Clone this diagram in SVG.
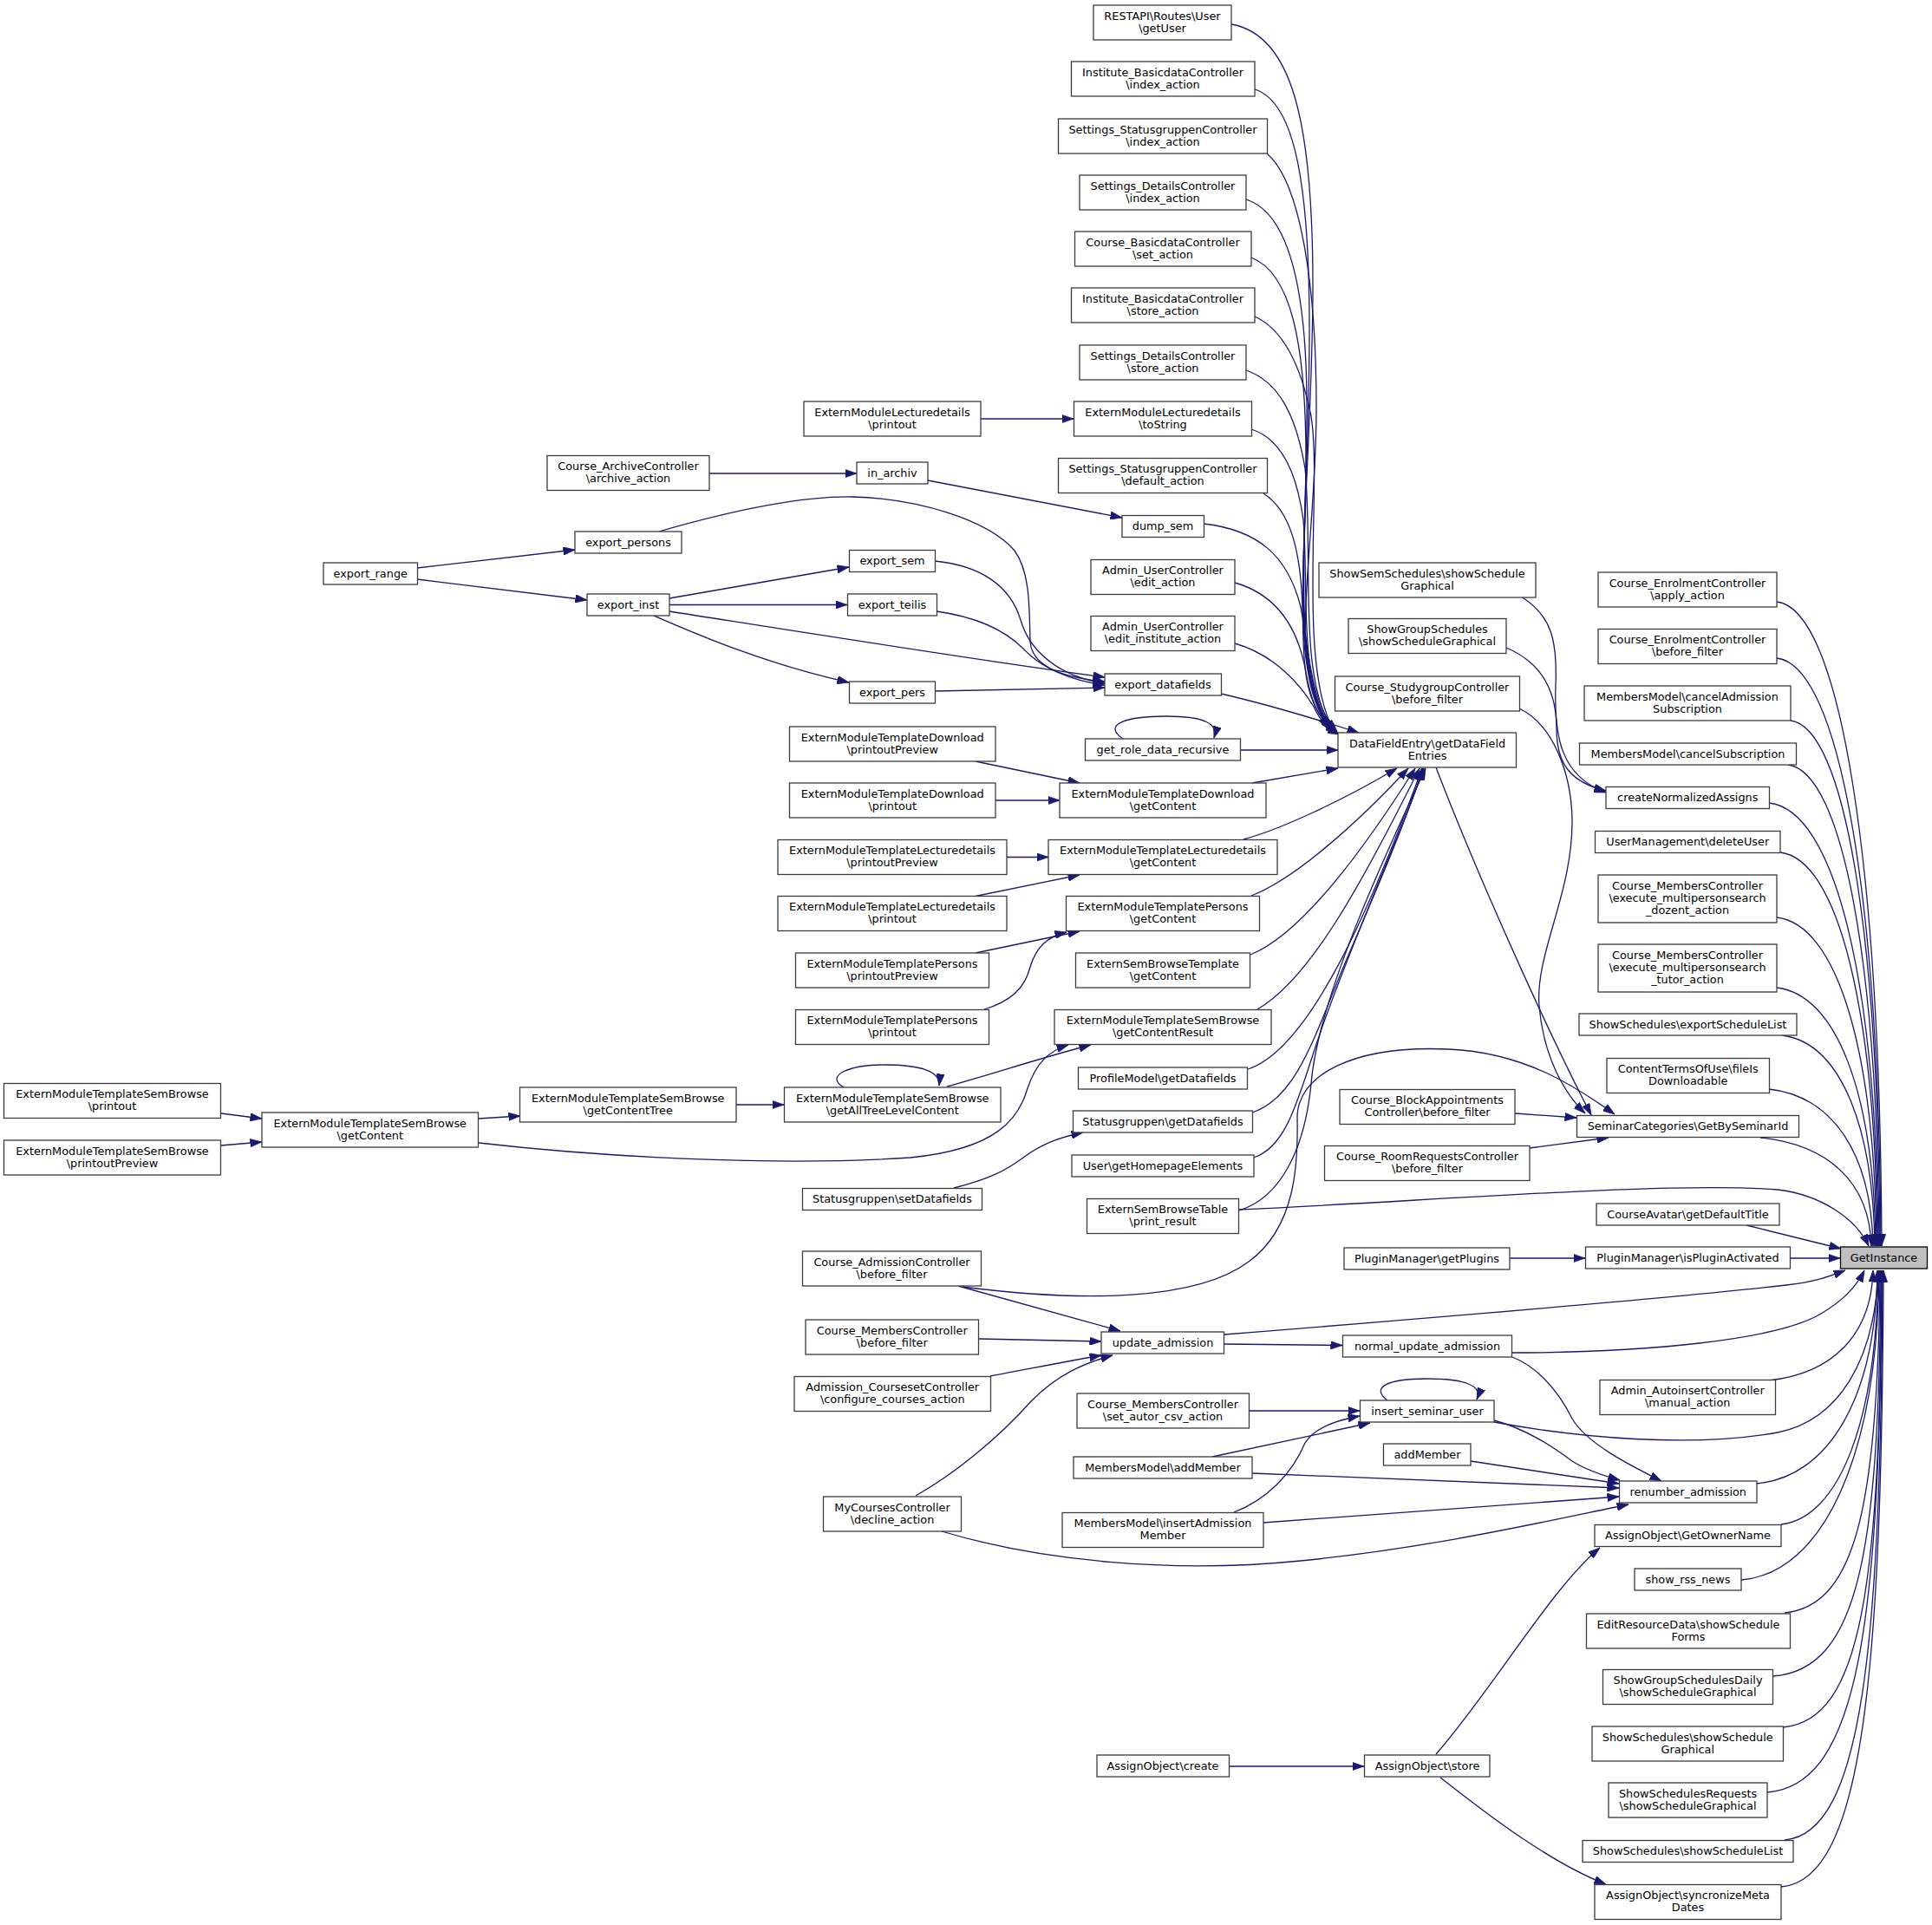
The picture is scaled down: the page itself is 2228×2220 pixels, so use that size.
<svg xmlns="http://www.w3.org/2000/svg" width="2228" height="2220" viewBox="0 0 2228 2220">
<defs>
<marker id="ah" viewBox="0 0 10 7" refX="10" refY="3.5" markerWidth="13.5" markerHeight="9.5" markerUnits="userSpaceOnUse" orient="auto"><path d="M0,0L10,3.5L0,7z" fill="#191970" stroke="#191970" stroke-width="0.5"/></marker>
</defs>
<style>
.nd rect{fill:#fff;stroke:#3c3c3c;stroke-width:1.3}
.nd text{font-family:"DejaVu Sans",sans-serif;font-size:12.85px;text-anchor:middle;fill:#000}
.hl rect{fill:#bfbfbf;stroke:#000}
.e path{fill:none;stroke:#191970;stroke-width:1.3;marker-end:url(#ah)}
</style>
<rect width="2228" height="2220" fill="#fff"/>
<g class="e" id="edges">
<!-- top column to DataFieldEntry -->
<path d="M1420,28 C1490,40 1514,140 1514,330 C1514,560 1480,760 1532,840"/>
<path d="M1447,103 C1495,118 1510,220 1510,380 C1510,600 1485,770 1534,841"/>
<path d="M1461,177 C1500,210 1518,330 1518,470 C1518,640 1480,780 1536,842"/>
<path d="M1437,230 C1485,245 1506,330 1507,460 C1508,640 1485,775 1537,843"/>
<path d="M1443,297 C1490,315 1505,400 1506,520 C1507,660 1485,780 1538,843"/>
<path d="M1447,365 C1480,380 1500,420 1512,480 C1525,560 1495,770 1539,844"/>
<path d="M1437,427 C1475,440 1495,480 1505,540 C1515,640 1495,790 1540,845"/>
<path d="M1443,495 C1475,505 1495,540 1503,600 C1510,680 1495,800 1541,845"/>
<path d="M1457,569 C1490,590 1500,640 1502,700 C1504,760 1500,815 1542,846"/>
<path d="M1388,604 C1450,611 1485,640 1500,700 C1510,750 1510,810 1543,846"/>
<path d="M1424,672 C1470,685 1495,720 1505,770 C1512,810 1520,830 1544,847"/>
<path d="M1424,742 C1470,755 1500,790 1515,815 C1522,830 1530,840 1545,847"/>
<path d="M1408,800 C1460,812 1520,830 1567,845"/>
<path d="M1430,865 L1543,865"/>
<path d="M1295,852 C1270,835 1300,826 1345,826 C1390,826 1405,835 1400,851"/>
<!-- mid column to DataFieldEntry bottom -->
<path d="M1444,903 C1480,897 1515,891 1543,886"/>
<path d="M1434,968 C1475,957 1545,925 1611,886"/>
<path d="M1443,1033 C1490,1015 1560,955 1624,886"/>
<path d="M1442,1101 C1495,1080 1560,1000 1632,886"/>
<path d="M1450,1164 C1510,1130 1570,1020 1637,886"/>
<path d="M1439,1233 C1510,1210 1580,1050 1640,886"/>
<path d="M1444,1283 C1500,1265 1520,1180 1560,1090 C1590,1020 1620,950 1641,886"/>
<path d="M1446,1335 C1490,1320 1500,1250 1530,1170 C1570,1060 1620,950 1642,886"/>
<path d="M1429,1396 C1480,1380 1505,1320 1512,1250 C1520,1150 1600,980 1644,886"/>
<!-- left cluster -->
<path d="M1131,483 L1238,483"/>
<path d="M818,546 L988,546"/>
<path d="M1070,554 L1294,597"/>
<path d="M481,655 L663,634"/>
<path d="M481,668 L677,692"/>
<path d="M772,690 L979,654"/>
<path d="M772,697.5 L977,697.5"/>
<path d="M772,705 C900,725 1150,765 1274,781"/>
<path d="M754,710 C800,730 880,765 979,787"/>
<path d="M760,613 C840,590 920,572 983,573 C1060,575 1140,600 1170,635 C1188,660 1187,700 1188,740 C1190,770 1230,782 1274,786"/>
<path d="M1078,647 C1130,652 1165,675 1177,715 C1187,750 1220,780 1274,788"/>
<path d="M1080,705 C1130,712 1160,728 1180,748 C1200,770 1235,785 1274,790"/>
<path d="M1078,797 L1274,793"/>
<path d="M1125,878 L1245,903"/>
<path d="M1148,923 L1222,923"/>
<path d="M1161,988.5 L1209,988.5"/>
<path d="M1125,1033.5 L1245,1009"/>
<path d="M1125,1099 L1245,1074"/>
<path d="M1135,1164 C1165,1155 1182,1140 1188,1115 C1195,1092 1208,1080 1230,1075"/>
<path d="M255,1284 L302,1290"/>
<path d="M255,1321 L302,1317"/>
<path d="M552,1290 L600,1287"/>
<path d="M849,1274 L904,1274"/>
<path d="M973,1254 C950,1240 980,1228 1020,1228 C1060,1228 1085,1235 1083,1252"/>
<path d="M1092,1253 C1140,1240 1200,1220 1258,1205"/>
<path d="M552,1318 C700,1335 900,1345 1050,1335 C1150,1325 1175,1290 1185,1255 C1195,1225 1210,1212 1232,1205"/>
<path d="M1100,1370 C1140,1360 1160,1350 1180,1335 C1200,1320 1220,1312 1249,1306"/>
<!-- to SeminarCategories / createNormalizedAssigns -->
<path d="M1754,688 C1790,710 1796,740 1794,790 C1792,850 1800,895 1852,914"/>
<path d="M1737,747 C1780,765 1795,800 1795,840 C1795,880 1810,902 1852,912"/>
<path d="M1752,817 C1790,835 1812,890 1813,945 C1814,1030 1770,1100 1775,1160 C1780,1220 1805,1262 1828,1284"/>
<path d="M1656,885 C1700,1000 1780,1180 1835,1286"/>
<path d="M1110,1484 C1250,1502 1380,1500 1440,1455 C1495,1415 1497,1340 1496,1290 C1495,1240 1560,1205 1671,1210 C1760,1214 1820,1255 1862,1285"/>
<path d="M1747,1284 L1818,1289"/>
<path d="M1764,1324 L1855,1312"/>
<!-- right column to GetInstance (top) -->
<path d="M2049,694 C2122,702 2168,991 2170,1437"/>
<path d="M2049,759 C2121,767 2167,1030 2169,1437"/>
<path d="M2065,831 C2127,839 2166,1073 2168,1437"/>
<path d="M2062,882 C2124,890 2165,1104 2167,1437"/>
<path d="M2040,926 C2116,934 2164,1130 2166,1437"/>
<path d="M2053,983 C2120,991 2163,1165 2165,1437"/>
<path d="M2049,1058 C2118,1066 2162,1209 2164,1437"/>
<path d="M2049,1139 C2117,1147 2161,1258 2163,1437"/>
<path d="M2055,1194 C2119,1202 2160,1291 2162,1437"/>
<path d="M2040,1256 C2112,1264 2158,1328 2160,1437"/>
<path d="M2030,1312 C2107,1320 2156,1362 2158,1437"/>
<path d="M1429,1395 C1650,1385 1930,1362 2050,1372 C2100,1378 2140,1405 2155,1437"/>
<path d="M2014,1413 L2123,1440"/>
<path d="M1741,1451 L1828,1451"/>
<path d="M2065,1451 L2122,1451"/>
<!-- bottom area -->
<path d="M1105,1483 L1292,1535"/>
<path d="M1129,1544 L1270,1547"/>
<path d="M1142,1587 C1180,1580 1230,1570 1270,1563"/>
<path d="M1056,1725 C1100,1700 1150,1660 1190,1615 C1220,1585 1250,1572 1283,1563"/>
<path d="M1086,1766 C1200,1800 1350,1815 1500,1800 C1650,1785 1780,1755 1878,1735"/>
<path d="M1412,1539 C1650,1520 1950,1495 2060,1482 C2095,1478 2112,1471 2128,1465"/>
<path d="M1412,1550 L1548,1551.5"/>
<path d="M1744,1560 C1900,1560 2050,1545 2100,1515 C2125,1500 2140,1485 2150,1465"/>
<path d="M1744,1565 C1770,1575 1795,1600 1813,1636 C1830,1665 1880,1690 1916,1708"/>
<path d="M1440,1627 L1568,1627"/>
<path d="M1398,1680 L1580,1641"/>
<path d="M1423,1744 C1460,1730 1490,1700 1505,1664 C1515,1648 1540,1638 1568,1633"/>
<path d="M1600,1615 C1580,1600 1600,1590 1645,1590 C1690,1590 1710,1598 1703,1614"/>
<path d="M1723,1640 C1820,1658 1950,1670 2050,1652 C2120,1638 2162,1570 2166,1465"/>
<path d="M1723,1638 C1760,1648 1790,1668 1813,1685 C1830,1696 1850,1702 1868,1707"/>
<path d="M1696,1685 L1867,1711"/>
<path d="M1444,1699 L1867,1716"/>
<path d="M1457,1756 L1867,1726"/>
<path d="M2040,1592 C2112,1584 2158,1541 2160,1465"/>
<path d="M2026,1711 C2109,1703 2163,1612 2165,1465"/>
<path d="M2054,1758 C2121,1750 2164,1640 2166,1465"/>
<path d="M2008,1822 C2103,1814 2165,1679 2167,1465"/>
<path d="M2058,1860 C2136,1852 2166,1750 2168,1465"/>
<path d="M2045,1933 C2144,1925 2167,1790 2169,1465"/>
<path d="M2056,1992 C2147,1984 2168,1830 2170,1465"/>
<path d="M2038,2067 C2144,2059 2168,1870 2170,1465"/>
<path d="M2058,2122 C2148,2114 2169,1900 2171,1465"/>
<path d="M2054,2176 C2149,2168 2170,1930 2172,1465"/>
<path d="M1417,2037 L1573,2037"/>
<path d="M1656,2023 C1720,1950 1790,1830 1845,1785"/>
<path d="M1661,2050 C1700,2080 1780,2145 1852,2173"/>
</g>
<g id="nodes">
<g class="nd" id="n_restapi"><rect x="1261" y="6" width="159" height="40"/><text><tspan x="1340.5" y="22.5">RESTAPI\Routes\User</tspan><tspan x="1340.5" y="36.7">\getUser</tspan></text></g>
<g class="nd" id="n_inst_index"><rect x="1235.5" y="71" width="211.5" height="40"/><text><tspan x="1341" y="87.5">Institute_BasicdataController</tspan><tspan x="1341" y="101.7">\index_action</tspan></text></g>
<g class="nd" id="n_sgc_index"><rect x="1220.5" y="137" width="241" height="40"/><text><tspan x="1341" y="153.5">Settings_StatusgruppenController</tspan><tspan x="1341" y="167.7">\index_action</tspan></text></g>
<g class="nd" id="n_sdc_index"><rect x="1245" y="202" width="192" height="40"/><text><tspan x="1341" y="218.5">Settings_DetailsController</tspan><tspan x="1341" y="232.7">\index_action</tspan></text></g>
<g class="nd" id="n_cbc_set"><rect x="1239.5" y="267" width="203.5" height="40"/><text><tspan x="1341" y="283.5">Course_BasicdataController</tspan><tspan x="1341" y="297.7">\set_action</tspan></text></g>
<g class="nd" id="n_inst_store"><rect x="1235.5" y="332" width="211.5" height="40"/><text><tspan x="1341" y="348.5">Institute_BasicdataController</tspan><tspan x="1341" y="362.7">\store_action</tspan></text></g>
<g class="nd" id="n_sdc_store"><rect x="1245" y="398" width="192" height="40"/><text><tspan x="1341" y="414.5">Settings_DetailsController</tspan><tspan x="1341" y="428.7">\store_action</tspan></text></g>
<g class="nd" id="n_eml_tostring"><rect x="1238.5" y="463" width="205" height="40"/><text><tspan x="1341" y="479.5">ExternModuleLecturedetails</tspan><tspan x="1341" y="493.7">\toString</tspan></text></g>
<g class="nd" id="n_sgc_default"><rect x="1220.5" y="528.5" width="241" height="40"/><text><tspan x="1341" y="545">Settings_StatusgruppenController</tspan><tspan x="1341" y="559.2">\default_action</tspan></text></g>
<g class="nd" id="n_dump_sem"><rect x="1294" y="594.5" width="94.5" height="25"/><text x="1341" y="611">dump_sem</text></g>
<g class="nd" id="n_auc_edit"><rect x="1258" y="645.5" width="166" height="40"/><text><tspan x="1341" y="662">Admin_UserController</tspan><tspan x="1341" y="676.2">\edit_action</tspan></text></g>
<g class="nd" id="n_auc_editinst"><rect x="1258" y="710.5" width="166" height="40"/><text><tspan x="1341" y="727">Admin_UserController</tspan><tspan x="1341" y="741.2">\edit_institute_action</tspan></text></g>
<g class="nd" id="n_export_datafields"><rect x="1274" y="777" width="134.5" height="25"/><text x="1341" y="793.5">export_datafields</text></g>
<g class="nd" id="n_get_role"><rect x="1251.5" y="852" width="179" height="25"/><text x="1341" y="868.5">get_role_data_recursive</text></g>
<g class="nd" id="n_emtd_gc"><rect x="1222" y="903" width="238" height="40"/><text><tspan x="1341" y="919.5">ExternModuleTemplateDownload</tspan><tspan x="1341" y="933.7">\getContent</tspan></text></g>
<g class="nd" id="n_emtl_gc"><rect x="1209" y="968.5" width="264" height="40"/><text><tspan x="1341" y="985">ExternModuleTemplateLecturedetails</tspan><tspan x="1341" y="999.2">\getContent</tspan></text></g>
<g class="nd" id="n_emtp_gc"><rect x="1229.5" y="1033.5" width="223" height="40"/><text><tspan x="1341" y="1050">ExternModuleTemplatePersons</tspan><tspan x="1341" y="1064.2">\getContent</tspan></text></g>
<g class="nd" id="n_esbt_gc"><rect x="1240.5" y="1099" width="201" height="40"/><text><tspan x="1341" y="1115.5">ExternSemBrowseTemplate</tspan><tspan x="1341" y="1129.7">\getContent</tspan></text></g>
<g class="nd" id="n_emts_res"><rect x="1216" y="1164.5" width="250" height="40"/><text><tspan x="1341" y="1181">ExternModuleTemplateSemBrowse</tspan><tspan x="1341" y="1195.2">\getContentResult</tspan></text></g>
<g class="nd" id="n_profile"><rect x="1243.5" y="1231" width="195" height="25"/><text x="1341" y="1247.5">ProfileModel\getDatafields</text></g>
<g class="nd" id="n_sg_get"><rect x="1237.5" y="1281" width="207" height="25"/><text x="1341" y="1297.5">Statusgruppen\getDatafields</text></g>
<g class="nd" id="n_user_home"><rect x="1236" y="1332" width="210" height="25"/><text x="1341" y="1348.5">User\getHomepageElements</text></g>
<g class="nd" id="n_esbtable"><rect x="1253.5" y="1382.5" width="175" height="40"/><text><tspan x="1341" y="1399">ExternSemBrowseTable</tspan><tspan x="1341" y="1413.2">\print_result</tspan></text></g>
<g class="nd" id="n_update_adm"><rect x="1270" y="1536" width="141.5" height="25"/><text x="1341" y="1552.5">update_admission</text></g>
<g class="nd" id="n_set_autor"><rect x="1242" y="1607" width="198.5" height="40"/><text><tspan x="1341" y="1623.5">Course_MembersController</tspan><tspan x="1341" y="1637.7">\set_autor_csv_action</tspan></text></g>
<g class="nd" id="n_mm_add"><rect x="1238" y="1680" width="206" height="25"/><text x="1341" y="1696.5">MembersModel\addMember</text></g>
<g class="nd" id="n_mm_insadm"><rect x="1225" y="1744.5" width="232" height="40"/><text><tspan x="1341" y="1761">MembersModel\insertAdmission</tspan><tspan x="1341" y="1775.2">Member</tspan></text></g>
<g class="nd" id="n_ao_create"><rect x="1265" y="2024" width="152.5" height="25"/><text x="1341" y="2040.5">AssignObject\create</text></g>
<g class="nd" id="n_showsem"><rect x="1521" y="649" width="250" height="40"/><text><tspan x="1646" y="665.5">ShowSemSchedules\showSchedule</tspan><tspan x="1646" y="679.7">Graphical</tspan></text></g>
<g class="nd" id="n_showgroup"><rect x="1555" y="713.5" width="182" height="40"/><text><tspan x="1646" y="730">ShowGroupSchedules</tspan><tspan x="1646" y="744.2">\showScheduleGraphical</tspan></text></g>
<g class="nd" id="n_studygroup"><rect x="1539.5" y="780" width="213" height="40"/><text><tspan x="1646" y="796.5">Course_StudygroupController</tspan><tspan x="1646" y="810.7">\before_filter</tspan></text></g>
<g class="nd" id="n_dfe"><rect x="1543" y="845" width="205.5" height="40"/><text><tspan x="1646" y="861.5">DataFieldEntry\getDataField</tspan><tspan x="1646" y="875.7">Entries</tspan></text></g>
<g class="nd" id="n_blockapp"><rect x="1545" y="1256.5" width="202" height="40"/><text><tspan x="1646" y="1273">Course_BlockAppointments</tspan><tspan x="1646" y="1287.2">Controller\before_filter</tspan></text></g>
<g class="nd" id="n_roomreq"><rect x="1527.5" y="1321.5" width="236.5" height="40"/><text><tspan x="1646" y="1338">Course_RoomRequestsController</tspan><tspan x="1646" y="1352.2">\before_filter</tspan></text></g>
<g class="nd" id="n_getplugins"><rect x="1550" y="1439" width="191" height="25"/><text x="1645.5" y="1455.5">PluginManager\getPlugins</text></g>
<g class="nd" id="n_normal_upd"><rect x="1548.5" y="1540" width="195" height="25"/><text x="1646" y="1556.5">normal_update_admission</text></g>
<g class="nd" id="n_ins_sem_user"><rect x="1568.5" y="1615" width="154.5" height="25"/><text x="1646" y="1631.5">insert_seminar_user</text></g>
<g class="nd" id="n_addmember"><rect x="1595.5" y="1665" width="100.5" height="25"/><text x="1646" y="1681.5">addMember</text></g>
<g class="nd" id="n_ao_store"><rect x="1573.5" y="2024" width="144.5" height="25"/><text x="1646" y="2040.5">AssignObject\store</text></g>
<g class="nd" id="n_enrol_apply"><rect x="1843" y="660" width="206" height="40"/><text><tspan x="1946" y="676.5">Course_EnrolmentController</tspan><tspan x="1946" y="690.7">\apply_action</tspan></text></g>
<g class="nd" id="n_enrol_before"><rect x="1843" y="725.5" width="206" height="40"/><text><tspan x="1946" y="742">Course_EnrolmentController</tspan><tspan x="1946" y="756.2">\before_filter</tspan></text></g>
<g class="nd" id="n_cancel_adm"><rect x="1827" y="791" width="238" height="40"/><text><tspan x="1946" y="807.5">MembersModel\cancelAdmission</tspan><tspan x="1946" y="821.7">Subscription</tspan></text></g>
<g class="nd" id="n_cancel_sub"><rect x="1821.5" y="857" width="250" height="25"/><text x="1946.5" y="873.5">MembersModel\cancelSubscription</text></g>
<g class="nd" id="n_cna"><rect x="1852" y="907.5" width="188.5" height="25"/><text x="1946.25" y="924">createNormalizedAssigns</text></g>
<g class="nd" id="n_deluser"><rect x="1839.5" y="958.5" width="213.5" height="25"/><text x="1946.25" y="975">UserManagement\deleteUser</text></g>
<g class="nd" id="n_exec_doz"><rect x="1843" y="1009" width="206" height="55"/><text><tspan x="1946" y="1025.5">Course_MembersController</tspan><tspan x="1946" y="1039.7">\execute_multipersonsearch</tspan><tspan x="1946" y="1053.9">_dozent_action</tspan></text></g>
<g class="nd" id="n_exec_tut"><rect x="1843" y="1089" width="206" height="55"/><text><tspan x="1946" y="1105.5">Course_MembersController</tspan><tspan x="1946" y="1119.7">\execute_multipersonsearch</tspan><tspan x="1946" y="1133.9">_tutor_action</tspan></text></g>
<g class="nd" id="n_export_sched"><rect x="1821" y="1169" width="251" height="25"/><text x="1946.5" y="1185.5">ShowSchedules\exportScheduleList</text></g>
<g class="nd" id="n_fileis"><rect x="1853" y="1220.5" width="187.5" height="40"/><text><tspan x="1946.75" y="1237">ContentTermsOfUse\fileIs</tspan><tspan x="1946.75" y="1251.2">Downloadable</tspan></text></g>
<g class="nd" id="n_semcat"><rect x="1818.5" y="1286.5" width="256" height="25"/><text x="1946.5" y="1303">SeminarCategories\GetBySeminarId</text></g>
<g class="nd" id="n_avatar"><rect x="1841" y="1388" width="211" height="25"/><text x="1946.5" y="1404.5">CourseAvatar\getDefaultTitle</text></g>
<g class="nd" id="n_isplugin"><rect x="1828.5" y="1438" width="236" height="25"/><text x="1946.5" y="1454.5">PluginManager\isPluginActivated</text></g>
<g class="nd hl" id="n_getinstance"><rect x="2122.5" y="1438" width="100" height="25"/><text x="2172.5" y="1454.5">GetInstance</text></g>
<g class="nd" id="n_autoinsert"><rect x="1845" y="1591.5" width="202.5" height="40"/><text><tspan x="1946.25" y="1608">Admin_AutoinsertController</tspan><tspan x="1946.25" y="1622.2">\manual_action</tspan></text></g>
<g class="nd" id="n_renumber"><rect x="1867.5" y="1708" width="158.5" height="25"/><text x="1946.75" y="1724.5">renumber_admission</text></g>
<g class="nd" id="n_getowner"><rect x="1839" y="1758.5" width="215" height="25"/><text x="1946.5" y="1775">AssignObject\GetOwnerName</text></g>
<g class="nd" id="n_rss"><rect x="1885" y="1809" width="123" height="25"/><text x="1946.5" y="1825.5">show_rss_news</text></g>
<g class="nd" id="n_editres"><rect x="1829.5" y="1861" width="235" height="40"/><text><tspan x="1947" y="1877.5">EditResourceData\showSchedule</tspan><tspan x="1947" y="1891.7">Forms</tspan></text></g>
<g class="nd" id="n_sgsd"><rect x="1848.5" y="1925.5" width="196" height="40"/><text><tspan x="1946.5" y="1942">ShowGroupSchedulesDaily</tspan><tspan x="1946.5" y="1956.2">\showScheduleGraphical</tspan></text></g>
<g class="nd" id="n_ss_graph"><rect x="1836" y="1991" width="220.5" height="40"/><text><tspan x="1946.25" y="2007.5">ShowSchedules\showSchedule</tspan><tspan x="1946.25" y="2021.7">Graphical</tspan></text></g>
<g class="nd" id="n_ssr"><rect x="1855" y="2056" width="183" height="40"/><text><tspan x="1946.5" y="2072.5">ShowSchedulesRequests</tspan><tspan x="1946.5" y="2086.7">\showScheduleGraphical</tspan></text></g>
<g class="nd" id="n_ss_list"><rect x="1825" y="2122.5" width="243" height="25"/><text x="1946.5" y="2139">ShowSchedules\showScheduleList</text></g>
<g class="nd" id="n_sync"><rect x="1839" y="2173.5" width="215" height="40"/><text><tspan x="1946.5" y="2190">AssignObject\syncronizeMeta</tspan><tspan x="1946.5" y="2204.2">Dates</tspan></text></g>
<g class="nd" id="n_eml_printout"><rect x="927" y="463" width="204" height="40"/><text><tspan x="1029" y="479.5">ExternModuleLecturedetails</tspan><tspan x="1029" y="493.7">\printout</tspan></text></g>
<g class="nd" id="n_archive"><rect x="631" y="525.5" width="187" height="40"/><text><tspan x="724.5" y="542">Course_ArchiveController</tspan><tspan x="724.5" y="556.2">\archive_action</tspan></text></g>
<g class="nd" id="n_in_archiv"><rect x="988" y="533" width="82" height="25"/><text x="1029" y="549.5">in_archiv</text></g>
<g class="nd" id="n_export_persons"><rect x="663" y="613" width="123" height="25"/><text x="724.5" y="629.5">export_persons</text></g>
<g class="nd" id="n_export_range"><rect x="373" y="649" width="108.5" height="25"/><text x="427.25" y="665.5">export_range</text></g>
<g class="nd" id="n_export_sem"><rect x="979.5" y="634.5" width="99" height="25"/><text x="1029" y="651">export_sem</text></g>
<g class="nd" id="n_export_inst"><rect x="677" y="685" width="95" height="25"/><text x="724.5" y="701.5">export_inst</text></g>
<g class="nd" id="n_export_teilis"><rect x="977.5" y="685" width="103" height="25"/><text x="1029" y="701.5">export_teilis</text></g>
<g class="nd" id="n_export_pers"><rect x="979.5" y="786" width="99" height="25"/><text x="1029" y="802.5">export_pers</text></g>
<g class="nd" id="n_emtd_prev"><rect x="910.5" y="838" width="237.5" height="40"/><text><tspan x="1029.25" y="854.5">ExternModuleTemplateDownload</tspan><tspan x="1029.25" y="868.7">\printoutPreview</tspan></text></g>
<g class="nd" id="n_emtd_print"><rect x="910.5" y="903" width="237.5" height="40"/><text><tspan x="1029.25" y="919.5">ExternModuleTemplateDownload</tspan><tspan x="1029.25" y="933.7">\printout</tspan></text></g>
<g class="nd" id="n_emtl_prev"><rect x="897" y="968.5" width="264" height="40"/><text><tspan x="1029" y="985">ExternModuleTemplateLecturedetails</tspan><tspan x="1029" y="999.2">\printoutPreview</tspan></text></g>
<g class="nd" id="n_emtl_print"><rect x="897" y="1033.5" width="264" height="40"/><text><tspan x="1029" y="1050">ExternModuleTemplateLecturedetails</tspan><tspan x="1029" y="1064.2">\printout</tspan></text></g>
<g class="nd" id="n_emtp_prev"><rect x="917.5" y="1099" width="223" height="40"/><text><tspan x="1029" y="1115.5">ExternModuleTemplatePersons</tspan><tspan x="1029" y="1129.7">\printoutPreview</tspan></text></g>
<g class="nd" id="n_emtp_print"><rect x="917.5" y="1164.5" width="223" height="40"/><text><tspan x="1029" y="1181">ExternModuleTemplatePersons</tspan><tspan x="1029" y="1195.2">\printout</tspan></text></g>
<g class="nd" id="n_emts_tree"><rect x="599.5" y="1254" width="249.5" height="40"/><text><tspan x="724.25" y="1270.5">ExternModuleTemplateSemBrowse</tspan><tspan x="724.25" y="1284.7">\getContentTree</tspan></text></g>
<g class="nd" id="n_emts_alltree"><rect x="904.5" y="1254" width="249.5" height="40"/><text><tspan x="1029.25" y="1270.5">ExternModuleTemplateSemBrowse</tspan><tspan x="1029.25" y="1284.7">\getAllTreeLevelContent</tspan></text></g>
<g class="nd" id="n_emts_print"><rect x="4.5" y="1249.5" width="250" height="40"/><text><tspan x="129.5" y="1266">ExternModuleTemplateSemBrowse</tspan><tspan x="129.5" y="1280.2">\printout</tspan></text></g>
<g class="nd" id="n_emts_prev"><rect x="4.5" y="1315" width="250" height="40"/><text><tspan x="129.5" y="1331.5">ExternModuleTemplateSemBrowse</tspan><tspan x="129.5" y="1345.7">\printoutPreview</tspan></text></g>
<g class="nd" id="n_emts_gc"><rect x="302" y="1283" width="249.5" height="40"/><text><tspan x="426.75" y="1299.5">ExternModuleTemplateSemBrowse</tspan><tspan x="426.75" y="1313.7">\getContent</tspan></text></g>
<g class="nd" id="n_sg_set"><rect x="925.5" y="1370.5" width="207" height="25"/><text x="1029" y="1387">Statusgruppen\setDatafields</text></g>
<g class="nd" id="n_cac_before"><rect x="925.5" y="1443" width="206" height="40"/><text><tspan x="1028.5" y="1459.5">Course_AdmissionController</tspan><tspan x="1028.5" y="1473.7">\before_filter</tspan></text></g>
<g class="nd" id="n_cmc_before"><rect x="929" y="1522" width="199.5" height="40"/><text><tspan x="1028.75" y="1538.5">Course_MembersController</tspan><tspan x="1028.75" y="1552.7">\before_filter</tspan></text></g>
<g class="nd" id="n_acc_config"><rect x="916" y="1587.5" width="226.5" height="40"/><text><tspan x="1029.25" y="1604">Admission_CoursesetController</tspan><tspan x="1029.25" y="1618.2">\configure_courses_action</tspan></text></g>
<g class="nd" id="n_mycourses"><rect x="949.5" y="1726" width="159" height="40"/><text><tspan x="1029" y="1742.5">MyCoursesController</tspan><tspan x="1029" y="1756.7">\decline_action</tspan></text></g>
</g>
</svg>
